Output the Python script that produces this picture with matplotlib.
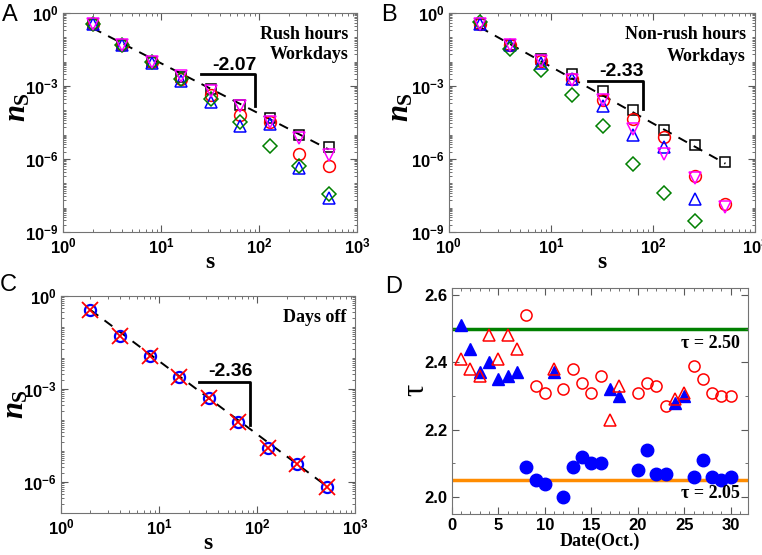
import numpy as np
import matplotlib
matplotlib.use("Agg")
import matplotlib.pyplot as plt
from matplotlib.font_manager import FontProperties
from matplotlib.ticker import LogLocator, NullFormatter, MultipleLocator

# cluster sizes s = 2, 4, ..., 512
s_vals = [2, 4, 8, 16, 32, 64, 128, 256, 512]

# panel A: log10(n_s), rush hours on workdays
a_square = [-0.44, -1.33, -2.0, -2.65, -3.14, -3.78, -4.33, -5.01, -5.49]
a_circle = [-0.44, -1.33, -2.0, -2.7, -3.37, -4.19, -4.5, -5.79, -6.28]
a_triup = [-0.44, -1.33, -2.05, -2.8, -3.65, -4.64, -4.56, -6.35, -7.61]
a_diamond = [-0.44, -1.33, -2.0, -2.7, -3.54, -4.5, -5.45, -6.27, -7.43]
a_tridown = [-0.44, -1.33, -2.0, -2.6, -3.2, -3.82, -4.5, -5.15, -5.83]

# panel B: non-rush hours on workdays
b_square = [-0.44, -1.33, -1.88, -2.52, -3.2, -4.0, -4.79, -5.44, -6.12]
b_circle = [-0.44, -1.33, -1.99, -2.7, -3.56, -4.34, -5.1, -6.71, -7.86]
b_triup = [-0.44, -1.33, -2.05, -2.7, -3.84, -5.0, -5.5, -7.63, None]
b_diamond = [-0.38, -1.5, -2.36, -3.36, -4.66, -6.22, -7.38, -8.55, None]
b_tridown = [-0.44, -1.33, -1.99, -2.77, -3.59, -4.75, -5.81, -6.77, -7.97]

# panel C: days off
c_vals = [-0.46, -1.29, -1.94, -2.6, -3.3, -4.07, -4.91, -5.42, -6.17]

# fitted exponents
slopes = [-2.07, -2.33, -2.36]
fit_start = [-0.62, -0.58, -0.45]

# panel D: tau per day in October
tri_days = [1, 2, 3, 4, 5, 6, 7, 11, 17, 18, 24, 25]
tri_filled = [2.51, 2.44, 2.37, 2.40, 2.35, 2.36, 2.37, 2.37, 2.32, 2.30, 2.28, 2.30]
tri_open = [2.41, 2.38, 2.36, 2.48, 2.41, 2.48, 2.44, 2.38, 2.23, 2.33, 2.29, 2.31]
circ_days = [8, 9, 10, 12, 13, 14, 15, 16, 20, 21, 22, 23, 26, 27, 28, 29, 30]
circ_open = [2.54, 2.33, 2.31, 2.32, 2.38, 2.34, 2.31, 2.36, 2.31, 2.34, 2.33, 2.27,
             2.39, 2.35, 2.31, 2.30, 2.30]
circ_filled = [2.09, 2.05, 2.04, 2.00, 2.09, 2.12, 2.10, 2.10, 2.08, 2.14, 2.07, 2.07,
               2.06, 2.11, 2.06, 2.05, 2.06]
tau_lines = [2.50, 2.05]

tick_font = {"family": "Liberation Sans", "weight": "bold", "size": 12}
serif_bold = {"family": "Liberation Serif", "weight": "bold"}


def to_pts(vals):
    xs = [s for s, v in zip(s_vals, vals) if v is not None]
    ys = [10 ** v for v in vals if v is not None]
    return xs, ys


def finish_ticks(ax):
    ax.tick_params(which="both", direction="in", top=True, right=True, color="0.35")
    ax.tick_params(which="major", length=5, pad=3)
    ax.tick_params(which="minor", length=2.5)
    for lab in ax.get_xticklabels() + ax.get_yticklabels():
        lab.set_fontproperties(FontProperties(**tick_font))
    for sp in ax.spines.values():
        sp.set_color("0.45")


def style_log_axes(ax, ymin_exp, ylab_x, ylab_y):
    ax.set_xscale("log")
    ax.set_yscale("log")
    ax.set_xlim(1, 1000)
    ax.set_ylim(10 ** ymin_exp, 1)
    ax.xaxis.set_major_locator(LogLocator(base=10, numticks=10))
    ax.xaxis.set_minor_locator(LogLocator(base=10, subs=np.arange(2, 10), numticks=20))
    ax.yaxis.set_major_locator(LogLocator(base=1000, numticks=10))
    ax.yaxis.set_minor_locator(LogLocator(base=10, subs=np.arange(1, 10), numticks=30))
    ax.xaxis.set_minor_formatter(NullFormatter())
    ax.yaxis.set_minor_formatter(NullFormatter())
    finish_ticks(ax)
    ax.set_xlabel("s", fontsize=17, labelpad=-3, **serif_bold)
    ax.set_ylabel("$\\mathit{n}_\\mathbf{S}$", fontsize=22)
    ax.yaxis.set_label_coords(ylab_x, ylab_y)


def slope_mark(ax, slope, x0, x1, y_top, y_bot, text_y):
    ax.plot([x0, x1, x1], [10 ** y_top, 10 ** y_top, 10 ** y_bot], color="black", lw=2)
    ax.text(np.sqrt(x0 * x1) * 1.15, 10 ** text_y, f"{slope:.2f}", ha="center", va="center",
            fontsize=14, family="Liberation Sans", weight="bold")


def fit_line(ax, slope, start):
    xs = np.array([s_vals[0], s_vals[-1]], dtype=float)
    ys = 10 ** (start + slope * np.log10(xs / xs[0]))
    ax.plot(xs, ys, color="black", ls=(0, (5, 4)), lw=1.4, zorder=1)


plt.rcParams["mathtext.fontset"] = "custom"
plt.rcParams["mathtext.it"] = "Liberation Serif:italic:bold"
plt.rcParams["mathtext.bf"] = "Liberation Serif:bold"
plt.rcParams["mathtext.rm"] = "Liberation Serif"

fig = plt.figure(figsize=(7.62, 5.55), dpi=100)
ax_a = fig.add_axes([0.0827, 0.582, 0.386, 0.3946])
ax_b = fig.add_axes([0.589, 0.582, 0.402, 0.3946])
ax_c = fig.add_axes([0.080, 0.0757, 0.386, 0.391])
ax_d = fig.add_axes([0.593, 0.0739, 0.388, 0.407])

marker_kw = dict(ls="none", mfc="none", ms=8.5, mew=1.1)
for ax, data, slope, start, lx in [
    (ax_a, [a_square, a_circle, a_triup, a_diamond, a_tridown], slopes[0], fit_start[0], -0.105),
    (ax_b, [b_square, b_circle, b_triup, b_diamond, b_tridown], slopes[1], fit_start[1], -0.11),
]:
    fit_line(ax, slope, start)
    sq, ci, tu, di, td = data
    ax.plot(*to_pts(sq), marker="s", mec="black", **{**marker_kw, "ms": 7.5})
    ax.plot(*to_pts(ci), marker="o", mec="red", **marker_kw)
    ax.plot(*to_pts(tu), marker="^", mec="blue", **marker_kw)
    ax.plot(*to_pts(di), marker="D", mec="green", **{**marker_kw, "ms": 7.5})
    ax.plot(*to_pts(td), marker="v", mec="magenta", **marker_kw)
    style_log_axes(ax, -9, lx, 0.57)

slope_mark(ax_a, slopes[0], 25.8, 90, -2.49, -3.82, -2.15)
slope_mark(ax_b, slopes[1], 23, 80, -2.81, -3.93, -2.4)
ax_a.text(0.97, 0.94, "Rush hours\nWorkdays", transform=ax_a.transAxes, ha="right", va="top",
          fontsize=13, linespacing=1.25, **serif_bold)
ax_b.text(0.97, 0.94, "Non-rush hours\nWorkdays", transform=ax_b.transAxes, ha="right", va="top",
          fontsize=13, linespacing=1.35, multialignment="right", **serif_bold)

# panel C
fit_line(ax_c, slopes[2], fit_start[2])
cx, cy = to_pts(c_vals)
ax_c.plot(cx, cy, marker="o", mec="blue", ls="none", mfc="none", ms=8, mew=1.6)
ax_c.plot(cx, cy, marker="x", color="red", ls="none", ms=11, mew=1.3)
style_log_axes(ax_c, -7, -0.105, 0.5)
slope_mark(ax_c, slopes[2], 25.3, 84, -2.79, -4.16, -2.45)
ax_c.text(0.97, 0.94, "Days off", transform=ax_c.transAxes, ha="right", va="top",
          fontsize=13, **serif_bold)

# panel D
ax_d.axhline(tau_lines[0], color="green", lw=2.5, zorder=1)
ax_d.axhline(tau_lines[1], color="darkorange", lw=2.5, zorder=1)
ax_d.plot(circ_days, circ_open, ls="none", marker="o", mfc="none", mec="red", ms=8, mew=1.1)
ax_d.plot(circ_days, circ_filled, ls="none", marker="o", color="blue", ms=9)
ax_d.plot(tri_days, tri_filled, ls="none", marker="^", color="blue", ms=9)
ax_d.plot(tri_days, tri_open, ls="none", marker="^", mfc="none", mec="red", ms=9, mew=1.1)
ax_d.set_xlim(0, 31.8)
ax_d.set_ylim(1.95, 2.62)
ax_d.xaxis.set_major_locator(MultipleLocator(5))
ax_d.xaxis.set_minor_locator(MultipleLocator(1))
ax_d.yaxis.set_minor_locator(MultipleLocator(0.1))
ax_d.set_yticks([2.0, 2.2, 2.4, 2.6])
ax_d.set_yticklabels(["2.0", "2.2", "2.4", "2.6"])
finish_ticks(ax_d)
ax_d.set_xlabel("Date(Oct.)", fontsize=13, labelpad=0, **serif_bold)
ax_d.set_ylabel("τ", fontsize=22, family="Liberation Serif")
ax_d.yaxis.set_label_coords(-0.072, 0.55)
ax_d.text(0.975, 2.482, "τ = 2.50", transform=ax_d.get_yaxis_transform(), ha="right", va="top",
          fontsize=13, **serif_bold)
ax_d.text(0.975, 2.036, "τ = 2.05", transform=ax_d.get_yaxis_transform(), ha="right", va="top",
          fontsize=13, **serif_bold)

# panel letters
for x, y, letter in [(0.002, 0.973, "A"), (0.5, 0.973, "B"), (0.0, 0.487, "C"), (0.506, 0.482, "D")]:
    fig.text(x, y, letter, fontsize=17, family="Liberation Sans", ha="left", va="center")

fig.savefig("out.png", dpi=100)
